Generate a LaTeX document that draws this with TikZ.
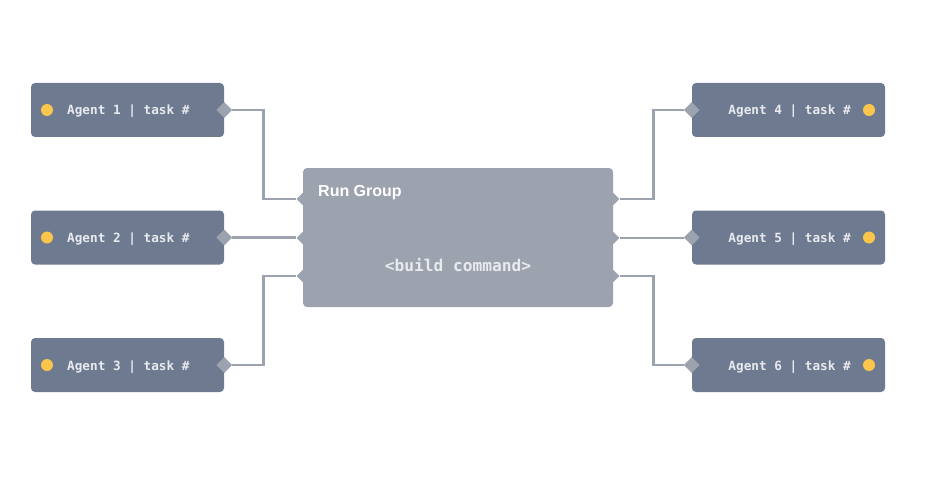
\documentclass[tikz,border=0pt]{standalone}
\usepackage{fontspec}
\setmainfont{Liberation Sans}
\setmonofont{DejaVu Sans Mono}
\usetikzlibrary{shapes.geometric}
\definecolor{agentbox}{HTML}{6E7A8F}
\definecolor{groupbox}{HTML}{9CA3AF}
\definecolor{wire}{HTML}{9CA3AF}
\definecolor{label}{HTML}{E8EAEE}
\definecolor{dot}{HTML}{FCC54B}
\tikzset{
  agent/.style={rectangle, rounded corners=4pt, fill=agentbox, minimum width=193pt, minimum height=54pt, inner sep=0pt},
  agenttext/.style={text=label, font=\ttfamily\bfseries\fontsize{12.7}{14}\selectfont, inner sep=0pt, anchor=base west},
  yellowdot/.style={circle, fill=dot, minimum size=12pt, inner sep=0pt},
  agentport/.style={diamond, fill=wire, minimum size=16pt, inner sep=0pt},
  groupport/.style={diamond, fill=groupbox, minimum size=13pt, inner sep=0pt},
  conn/.style={draw=wire, line width=2.6pt},
}
\begin{document}
\begin{tikzpicture}[x=1pt,y=-1pt]
\useasboundingbox (0,0) rectangle (929,484);
% central group
\node[rectangle, rounded corners=4pt, fill=groupbox, minimum width=310pt, minimum height=139pt, inner sep=0pt] (grp) at (458,237.5) {};
\node[text=white, font=\bfseries\fontsize{16}{18}\selectfont, anchor=base west, inner sep=0pt] (grptitle) at (318,196) {Run Group};
\node[text=label, font=\ttfamily\bfseries\fontsize{16.2}{18}\selectfont, inner sep=0pt] (cmd) at (458,265) {<build command>};
\foreach \n/\y in {1/199,2/238,3/276}{
  \node[groupport] (gl\n) at (303,\y) {};
  \node[groupport] (gr\n) at (613,\y) {};
}
% left agents
\foreach \n/\y in {1/110,2/237.5,3/365}{
  \node[agent] (a\n) at (127.5,\y) {};
  \node[yellowdot] (dot\n) at (47,\y) {};
  \node[agenttext] (t\n) at (67,\y+5) {Agent \n\ | task \#};
  \node[agentport] (p\n) at (a\n.east) {};
}
% right agents
\foreach \n/\y in {4/110,5/237.5,6/365}{
  \node[agent] (a\n) at (788.5,\y) {};
  \node[yellowdot] (dot\n) at (869,\y) {};
  \node[agenttext, anchor=base east] (t\n) at (851,\y+5) {Agent \n\ | task \#};
  \node[agentport] (p\n) at (a\n.west) {};
}
% connectors
\draw[conn] (p1.east) -- ++(31,0) |- (gl1.west);
\draw[conn] (p2.east) -- (p2.east -| gl2.west);
\draw[conn] (p3.east) -- ++(31,0) |- (gl3.west);
\draw[conn] (gr1.east) -- ++(34,0) |- (p4.west);
\draw[conn] (gr2.east) -- (gr2.east -| p5.west);
\draw[conn] (gr3.east) -- ++(34,0) |- (p6.west);
\end{tikzpicture}
\end{document}
